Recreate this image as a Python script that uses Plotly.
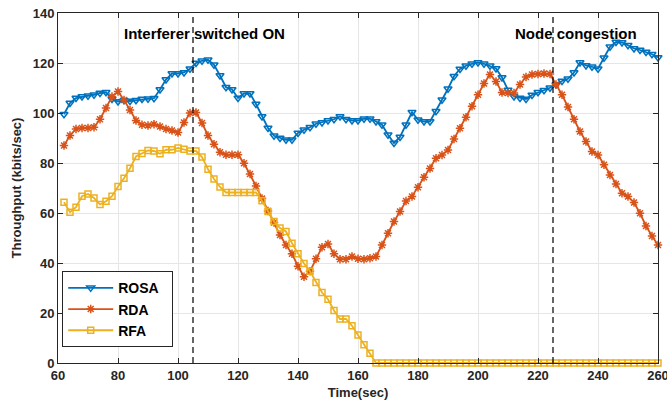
import plotly.graph_objects as go

# Time axis (seconds) – one sample every 2 s
time = list(range(62, 261, 2))

rosa = [99.5, 104, 106, 106.6, 106.9, 107.3, 108, 108.3, 105.6, 104.6,
        105.1, 104.8, 105.1, 105.6, 105.7, 105.9, 109.4, 113.4, 115.8, 115.8,
        116.2, 117.7, 120, 120.9, 121.3, 119.3, 115, 110.3, 109.4, 106,
        107.8, 107.8, 103.6, 98.6, 94, 90.9, 90, 89.3, 89.3, 92,
        93.3, 94.3, 95.7, 96.2, 97, 97.5, 98.6, 97.5, 97, 97,
        97.7, 97.7, 96.6, 95.3, 91.3, 88, 90.4, 95.3, 100.3, 97.3,
        96.6, 96.6, 100.7, 105.3, 109.7, 114.7, 117.6, 118.9, 119.7, 120.2,
        119.7, 118.9, 117.8, 114.2, 109.2, 106.6, 106, 105.6, 107.2, 108.3,
        109.1, 110.1, 111.4, 112.8, 113.7, 116.2, 120.2, 119, 118.5, 117.7,
        122.1, 126.5, 128.4, 128.2, 127.1, 125.8, 125.2, 124.4, 123.5, 122.2]

rda = [87, 91, 93.6, 94, 94, 94.3, 97.5, 102, 106.6, 108.6,
       105.2, 101.2, 97, 95.3, 95, 95.5, 94.6, 93.6, 93, 92.2,
       96.2, 100, 100.2, 96, 91, 87.5, 84.3, 83.3, 83.3, 83.3,
       79.9, 75.6, 70.8, 65.8, 60.8, 56.2, 51.2, 47.2, 43.7, 38.7,
       34.5, 36.7, 41.7, 46.3, 47.6, 43.7, 41.5, 41.5, 42.6, 41.7,
       41.5, 41.9, 42.6, 47.2, 51.9, 56.6, 60.6, 64.8, 66.6, 70.3,
       74.3, 77.8, 81.9, 83.2, 85.2, 89.6, 93.9, 98.3, 102.7, 107.3,
       111.8, 115.4, 112.6, 108.2, 108, 108, 111.4, 114.4, 115.4, 115.6,
       115.8, 115.6, 111.4, 107.3, 102.4, 97.5, 92.6, 88.6, 84.6, 83.2,
       79.3, 75.2, 71.6, 67.9, 66.6, 64.2, 59.9, 54.8, 50.8, 47.2]

rfa = [64.3, 60.3, 62.3, 66.7, 67.6, 66, 63.4, 64.7, 66.7, 70.6,
       73.9, 77.9, 82.6, 83.8, 85, 84.8, 83.7, 85.3, 85.3, 86,
       85.5, 84.8, 84.8, 82.4, 77.5, 73.6, 70.4, 68.2, 68.2, 68.2,
       68.2, 68.2, 68.2, 64.9, 60.6, 56.6, 54, 52.6, 47.9, 43.7,
       39.8, 36.7, 32.2, 28.2, 25.5, 21, 17.6, 17.6, 14.9, 11.2,
       7.3, 3.9, 0, 0, 0, 0, 0, 0, 0, 0,
       0, 0, 0, 0, 0, 0, 0, 0, 0, 0,
       0, 0, 0, 0, 0, 0, 0, 0, 0, 0,
       0, 0, 0, 0, 0, 0, 0, 0, 0, 0,
       0, 0, 0, 0, 0, 0, 0, 0, 0, 0]

series_names = ["ROSA", "RDA", "RFA"]
event_times = [105, 225]
event_labels = ["Interferer switched ON", "Node congestion"]
event_label_x = [108.9, 232.5]
x_ticks = list(range(60, 261, 20))
y_ticks = list(range(0, 141, 20))

FONT = "Liberation Sans, Arial, Helvetica, sans-serif"
AX = "#262626"

fig = go.Figure()
styles = [
    (rosa, "#0072BD", "triangle-down-open", 7),
    (rda, "#D95319", "asterisk-open", 7),
    (rfa, "#EDB120", "square-open", 6),
]
for name, (vals, col, sym, sz) in zip(series_names, styles):
    fig.add_trace(go.Scatter(
        x=time, y=vals, name="<b>" + name + "</b>&nbsp;&nbsp;", mode="lines+markers",
        line=dict(color=col, width=1.8),
        marker=dict(symbol=sym, size=sz, color=col, line=dict(color=col, width=1.5)),
        cliponaxis=False,
    ))

for t in event_times:
    fig.add_shape(type="line", x0=t, x1=t, xref="x", y0=0, y1=1, yref="paper",
                  line=dict(color="black", width=1.2, dash="6px,4px"))

for lx, txt in zip(event_label_x, event_labels):
    fig.add_annotation(x=lx, y=132, xref="x", yref="y", text="<b>" + txt + "</b>",
                       showarrow=False, font=dict(family=FONT, size=15, color="#000000"),
                       bgcolor="rgba(0,0,0,0)")

axis_common = dict(
    showline=True, linecolor=AX, linewidth=1, mirror="ticks",
    ticks="inside", ticklen=5, tickcolor=AX, tickwidth=1,
    showgrid=True, gridcolor="#e6e6e6", gridwidth=1, zeroline=False,
    tickfont=dict(family=FONT, size=13, color=AX),
    ticklabeloverflow="allow",
)

fig.update_xaxes(range=[60, 260], tickvals=x_ticks, ticktext=["<b>%d</b>" % v for v in x_ticks],
                 title=dict(text="<b>Time(sec)</b>", font=dict(family=FONT, size=13, color=AX), standoff=6),
                 **axis_common)
fig.update_yaxes(range=[0, 140], tickvals=y_ticks, ticktext=["<b>%d</b>" % v for v in y_ticks],
                 title=dict(text="<b>Throughput (kbits/sec)</b>", font=dict(family=FONT, size=13, color=AX), standoff=8),
                 **axis_common)

fig.update_layout(
    width=667, height=404,
    margin=dict(l=58, r=9, t=13, b=41, autoexpand=False),
    plot_bgcolor="white", paper_bgcolor="white",
    font=dict(family=FONT, color=AX),
    legend=dict(
        x=0.007, y=0.045, xanchor="left", yanchor="bottom",
        bgcolor="white", bordercolor=AX, borderwidth=1,
        font=dict(family=FONT, size=14, color="#000000"),
        itemwidth=45, tracegroupgap=0,
    ),
    showlegend=True,
)

fig.write_html("out.html", config={"displayModeBar": False},
               post_script="document.body.style.margin='0';document.body.style.padding='0';"
                           "document.documentElement.style.overflow='hidden';")
